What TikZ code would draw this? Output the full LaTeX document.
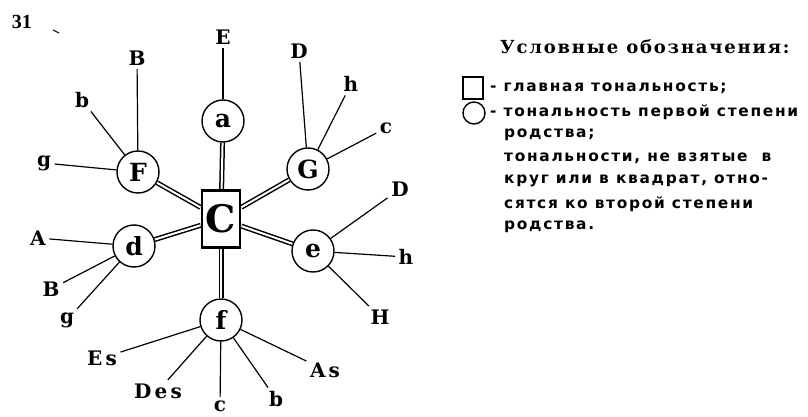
\documentclass[tikz,border=0pt]{standalone}
\usepackage{fontspec}
\usetikzlibrary{backgrounds}
\newfontfamily\labfont{DejaVu Serif}[LetterSpace=16]
\newfontfamily\keyfont{DejaVu Serif}
\newfontfamily\legfont{DejaVu Sans}[LetterSpace=11]
\newfontfamily\titfont{DejaVu Serif}[LetterSpace=10]
\newfontfamily\numfont{Liberation Serif}
\begin{document}
\begin{tikzpicture}[x=1pt,y=-1pt,
  key/.style={circle,draw,fill=white,line width=1.4pt,minimum size=42pt,inner sep=0pt,
    font=\keyfont\bfseries\fontsize{25}{25}\selectfont},
  main/.style={draw,fill=white,line width=2.8pt,minimum width=38pt,minimum height=57pt,inner sep=0pt,
    font=\keyfont\bfseries\fontsize{38}{38}\selectfont},
  lab/.style={inner sep=3.5pt,font=\labfont\bfseries\fontsize{20}{20}\selectfont},
  rel/.style={line width=1.2pt},
  link/.style={double,double distance=2pt,line width=1.5pt},
  leg/.style={anchor=west,inner sep=0pt,font=\legfont\bfseries\fontsize{15.4}{15.4}\selectfont},
  legsym/.style={draw,line width=1.4pt,inner sep=0pt}]
\useasboundingbox (0,0) rectangle (808,417);

\node[font=\numfont\bfseries\fontsize{20}{20}\selectfont,inner sep=0pt] (num) at (22,22) {31};
\draw[line width=1pt] (53,30) -- (59,33);

% central and first-degree keys
\node[main] (C) at (221,219) {C};
\node[key] (a) at (223,121) {a};
\node[key] (F) at (138,172) {F};
\node[key] (G) at (308,169) {G};
\node[key] (d) at (134,246) {d};
\node[key] (e) at (313,251) {e};
\node[key] (f) at (221,320) {f};

\begin{scope}[on background layer]
\foreach \k in {a,F,G,d,e,f} \draw[link] (C) -- (\k);
\end{scope}

% second-degree keys
\node[lab] (aE) at (223,37) {E};
\node[lab] (FB) at (137,58) {B};
\node[lab] (Fb) at (82,100) {b};
\node[lab] (Fg) at (44,163) {g};
\node[lab] (GD) at (299,51) {D};
\node[lab] (Gh) at (351,84) {h};
\node[lab] (Gc) at (386,128) {c};
\node[lab] (eD) at (400,189) {D};
\node[lab] (eh) at (406,257) {h};
\node[lab] (eH) at (380,317) {H};
\node[lab] (dA) at (38,238) {A};
\node[lab] (dB) at (51,289) {B};
\node[lab] (dg) at (67,320) {g};
\node[lab] (fEs) at (102,358) {Es};
\node[lab] (fDes) at (158,391) {Des};
\node[lab] (fc) at (220,406) {c};
\node[lab] (fb) at (276,399) {b};
\node[lab] (fAs) at (325,370) {As};

\foreach \k/\l in {a/aE,F/FB,F/Fb,F/Fg,G/GD,G/Gh,G/Gc,e/eD,e/eh,e/eH,d/dA,d/dB,d/dg,f/fEs,f/fDes,f/fc,f/fb,f/fAs}
  \draw[rel] (\k) -- (\l);

% legend
\node[font=\titfont\bfseries\fontsize{18}{18}\selectfont,anchor=west,inner sep=0pt] (title) at (500,47) {Условные обозначения:};
\node[legsym,minimum width=20pt,minimum height=22pt] (sq) at (473,88) {};
\node[legsym,circle,minimum size=22pt] (ci) at (474,113) {};
\node[leg] (l1) at (490,88) {- главная тональность;};
\node[leg] (l2) at (490,112) {- тональность первой степени};
\node[leg] (l3) at (504,135) {родства;};
\node[leg] (l4) at (504,158) {тональности, не взятые\ \ в};
\node[leg] (l5) at (504,181) {круг или в квадрат, отно-};
\node[leg] (l6) at (504,204) {сятся ко второй степени};
\node[leg] (l7) at (504,227) {родства.};
\end{tikzpicture}
\end{document}
